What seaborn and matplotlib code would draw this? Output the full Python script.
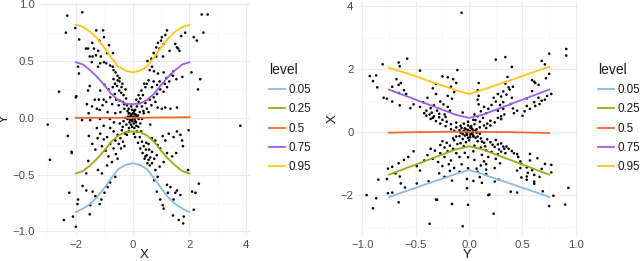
import numpy as np
import pandas as pd
import matplotlib
matplotlib.use("Agg")
import matplotlib.pyplot as plt
import seaborn as sns

x_obs = [
    -2.30, -1.77, -2.35, -2.02, -1.88, -1.28, -1.04, -1.01, -1.17, -1.42,
    -1.64, -1.57, -1.36, -1.21, -1.29, -1.41, -1.51, -1.12, -0.90, -0.69,
    -0.83, -1.44, -1.14, -0.93, -1.92, -1.89, -2.59, -0.79, -0.67, -1.01,
    -1.22,
    2.43, 2.64, 2.49, 2.15, 2.26, 1.71, 1.85, 1.21, 1.15, 1.03,
    1.00, 0.89, 1.09, 0.83, 0.95, 1.30, 1.50, 1.56, 1.60, 1.65,
    0.74, 0.83, 0.66, 1.07, 0.52, 0.68, 0.60, 0.75, 0.89, 1.09,
    1.19, 1.35, 1.44, 1.54, 1.75, 2.07, 2.38, 2.30, 1.42, 1.29,
    1.13, 0.95,
    -0.70, -0.60, -0.53, -0.62, -0.46, -0.70, -0.85, -0.99, -1.14, -1.19,
    -1.33, -1.51, -1.57, -2.00, -1.61, -1.43, -1.26, -1.55, -1.06, -0.93,
    -0.79, -0.63, -0.47, -0.39, -0.32, -0.58, -0.72, -0.49, -0.34, -0.23,
    -0.20, -0.29, -0.14, -0.43, -0.61, -0.88, -0.11, -0.02, -0.06, -0.16,
    0.04, -1.02, -1.16, -0.53, -0.67, -0.36, -0.46,
    0.09, 0.15, 0.21, 0.27, 0.36, 0.31, 0.45, 0.50, 0.56, 0.41,
    0.25, 0.33, 0.45, 0.60, 0.74, 0.86, 0.97, 1.09, 1.15, 1.03,
    0.88, 1.33, 1.56, 0.19, 0.39, 0.56, 0.66, 0.80, 0.13, 0.21,
    0.68, 0.74, 0.86, 1.21,
    -0.08, 0.01, 0.07, -0.02, -0.11, 0.09, 0.04, -0.06, 0.15, -0.18,
    -0.26, 0.21, 0.12, -0.14, 0.01, -0.02, 0.06, 0.13, -0.13, -0.22,
    0.27, -0.32, 0.33, -0.04, 0.03, -0.01, 0.05, -0.09, 0.10, -0.05,
    -2.99, -2.91, 3.79, -2.31, -1.78, -1.49, -1.15, -0.80, -1.98, -2.15,
    -2.28, -2.14, -1.56, -1.63, -1.54, -1.42, -1.31, -1.23, -1.14, -1.08,
    -0.95, -0.85, -0.73, -1.02, -0.90, -0.79, -0.67, -0.59, -0.53, -0.61,
    -0.49, -0.41, -0.53, -0.43, -0.34, -0.29, -0.26, -0.38, -0.20, -0.14,
    -0.67, -0.79, -1.02, -1.26, -0.90, -1.08, -1.22, -0.79, -0.88, -0.99,
    -1.10, -1.16, -1.31, -1.41, -1.49, -1.76, -1.63, -1.92, -1.94, -2.23,
    -1.51, -2.10, -2.42, -2.00, -0.61,
    0.15, 0.25, 0.33, 0.39, 0.47, 0.50, 0.56, 0.60, 0.68, 0.45,
    0.35, 0.27, 0.19, 0.09, 0.04, 0.56, 0.68, 0.80, 0.88, 0.97,
    1.06, 1.15, 1.27, 1.44, 1.56, 1.68, 1.74, 1.97, 1.21, 1.39,
    1.53, 1.09, 0.95, 0.76, 0.85, 0.68, 0.80, 0.88, 0.76, 0.85,
    0.97, 1.06, 1.09, 1.24, 1.33, 1.44, 1.50, 1.56, 1.68, 1.42,
    1.21, 1.80, 1.78, 1.62, 2.09, 2.21, 2.33, 2.15, 1.95, 1.77,
    0.42, 0.52, 0.48, 0.58, 0.62, 0.30, 0.20, -0.30, -0.40, -0.25,
    -0.55, -0.45, -0.18, 0.12, -0.35, -0.45, 0.38, 0.50, -0.66, 0.62,
]
y_obs = [
    0.90, 0.93, 0.75, 0.79, 0.69, 0.77, 0.77, 0.71, 0.68, 0.66,
    0.61, 0.61, 0.61, 0.59, 0.55, 0.54, 0.54, 0.54, 0.57, 0.57,
    0.64, 0.49, 0.48, 0.48, 0.45, 0.39, 0.23, 0.46, 0.42, 0.49,
    0.45,
    0.91, 0.91, 0.75, 0.71, 0.68, 0.72, 0.75, 0.77, 0.73, 0.71,
    0.68, 0.66, 0.65, 0.62, 0.61, 0.59, 0.65, 0.62, 0.61, 0.59,
    0.57, 0.54, 0.52, 0.54, 0.50, 0.45, 0.42, 0.41, 0.39, 0.40,
    0.35, 0.38, 0.41, 0.34, 0.36, 0.40, 0.34, 0.25, 0.37, 0.32,
    0.30, 0.32,
    0.45, 0.40, 0.33, 0.30, 0.32, 0.27, 0.25, 0.29, 0.24, 0.16,
    0.16, 0.28, 0.24, 0.18, 0.12, 0.10, 0.08, 0.04, 0.11, 0.14,
    0.18, 0.21, 0.24, 0.27, 0.20, 0.16, 0.12, 0.11, 0.14, 0.17,
    0.11, 0.08, 0.08, 0.05, 0.04, 0.05, 0.04, 0.07, 0.02, 0.01,
    0.04, 0.16, 0.07, 0.37, 0.34, 0.30, 0.35,
    0.07, 0.10, 0.14, 0.17, 0.20, 0.24, 0.27, 0.30, 0.33, 0.30,
    0.05, 0.10, 0.13, 0.16, 0.18, 0.21, 0.25, 0.23, 0.09, 0.08,
    0.09, 0.08, 0.09, 0.02, 0.04, 0.05, 0.11, 0.14, 0.16, 0.20,
    0.27, 0.32, 0.29, 0.27,
    0.01, 0.00, -0.01, -0.02, -0.04, -0.03, -0.05, -0.06, 0.01, -0.01,
    0.00, -0.01, 0.02, 0.04, 0.04, -0.08, -0.09, -0.07, -0.09, -0.06,
    -0.05, -0.03, -0.01, 0.03, 0.01, -0.03, 0.06, -0.02, 0.03, 0.10,
    -0.06, -0.37, -0.07, -0.01, -0.02, -0.02, -0.01, -0.01, 0.19, -0.30,
    -0.16, -0.31, -0.38, -0.49, -0.16, -0.23, -0.28, -0.18, -0.14, -0.25,
    -0.29, -0.34, -0.39, -0.19, -0.17, -0.23, -0.27, -0.32, -0.36, -0.20,
    -0.23, -0.27, -0.15, -0.18, -0.21, -0.25, -0.14, -0.11, -0.15, -0.12,
    -0.12, -0.09, -0.07, -0.09, -0.42, -0.49, -0.46, -0.57, -0.61, -0.66,
    -0.72, -0.76, -0.69, -0.65, -0.77, -0.60, -0.64, -0.72, -0.76, -0.66,
    -0.85, -0.87, -0.90, -0.96, -0.52,
    -0.12, -0.17, -0.21, -0.25, -0.28, -0.33, -0.37, -0.42, -0.40, -0.34,
    -0.31, -0.27, -0.22, -0.17, -0.14, -0.23, -0.18, -0.20, -0.24, -0.27,
    -0.16, -0.20, -0.14, -0.17, -0.12, -0.15, -0.20, -0.11, -0.31, -0.34,
    -0.31, -0.39, -0.43, -0.36, -0.33, -0.30, -0.46, -0.52, -0.55, -0.65,
    -0.72, -0.77, -0.80, -0.66, -0.61, -0.72, -0.66, -0.64, -0.68, -0.86,
    -0.59, -0.87, -0.93, -0.90, -0.65, -0.66, -0.58, -0.81, -0.46, -0.25,
    -0.36, -0.40, -0.22, -0.28, -0.35, -0.12, -0.08, 0.12, 0.22, 0.25,
    0.28, 0.15, 0.06, -0.04, -0.08, -0.05, 0.06, 0.08, -0.04, -0.06,
]

levels = ["0.05", "0.25", "0.5", "0.75", "0.95"]
level_colors = ["#8ABBE3", "#A3A711", "#F2692A", "#A35CEB", "#FFC516"]

# quantile curves, Y given X (left panel)
grid_left = [-2.0, -1.75, -1.5, -1.25, -1.0, -0.75, -0.5, -0.25, 0.0,
             0.25, 0.5, 0.75, 1.0, 1.25, 1.5, 1.75, 2.0]
q_left = {
    "0.05": [-0.83, -0.80, -0.76, -0.70, -0.62, -0.53, -0.45, -0.415, -0.40,
             -0.415, -0.45, -0.53, -0.62, -0.70, -0.76, -0.80, -0.83],
    "0.25": [-0.49, -0.47, -0.42, -0.36, -0.29, -0.21, -0.155, -0.125, -0.12,
             -0.125, -0.155, -0.21, -0.29, -0.36, -0.42, -0.47, -0.49],
    "0.5": [0.0, 0.0, 0.0, 0.0, 0.0, 0.0, 0.0, 0.0, 0.0,
            0.0, 0.001, 0.002, 0.003, 0.004, 0.004, 0.005, 0.005],
    "0.75": [0.49, 0.47, 0.42, 0.36, 0.29, 0.21, 0.155, 0.125, 0.12,
             0.125, 0.155, 0.21, 0.29, 0.36, 0.42, 0.47, 0.49],
    "0.95": [0.82, 0.80, 0.76, 0.70, 0.62, 0.53, 0.45, 0.415, 0.40,
             0.415, 0.45, 0.53, 0.62, 0.70, 0.76, 0.80, 0.82],
}

# quantile curves, X given Y (right panel)
grid_right = [-0.75, -0.625, -0.5, -0.375, -0.25, -0.125, 0.0,
              0.125, 0.25, 0.375, 0.5, 0.625, 0.75]
q_right = {
    "0.05": [-2.06, -1.91, -1.77, -1.62, -1.48, -1.33, -1.20,
             -1.33, -1.48, -1.62, -1.77, -1.91, -2.06],
    "0.25": [-1.35, -1.19, -1.03, -0.87, -0.71, -0.55, -0.45,
             -0.55, -0.71, -0.87, -1.03, -1.19, -1.35],
    "0.5": [-0.02, -0.01, 0.0, 0.0, 0.01, 0.01, 0.01,
            0.01, 0.0, 0.0, -0.01, -0.02, -0.03],
    "0.75": [1.35, 1.19, 1.03, 0.87, 0.71, 0.55, 0.45,
             0.55, 0.71, 0.87, 1.03, 1.19, 1.35],
    "0.95": [2.04, 1.91, 1.77, 1.62, 1.48, 1.33, 1.21,
             1.34, 1.49, 1.63, 1.78, 1.93, 2.07],
}

obs = pd.DataFrame({"X": x_obs, "Y": y_obs})


def long_lines(grid, q):
    frames = []
    for lev in levels:
        frames.append(pd.DataFrame({"g": grid, "v": q[lev], "level": lev}))
    return pd.concat(frames, ignore_index=True)


lines_left = long_lines(grid_left, q_left)
lines_right = long_lines(grid_right, q_right)

plt.rcParams["font.family"] = ["Liberation Sans", "DejaVu Sans"]
plt.rcParams["axes.unicode_minus"] = True

W, H = 640, 261
fig = plt.figure(figsize=(W / 100, H / 100), dpi=100)


def px_axes(x0, y0, x1, y1):
    return fig.add_axes([x0 / W, 1 - y1 / H, (x1 - x0) / W, (y1 - y0) / H])


def px_text(x, y, s, **kw):
    fig.text(x / W, 1 - y / H, s, ha="center", va="center", fontsize=9.5, color="#1A1A1A", **kw)


def style(ax, xmaj, xmin, ymaj, ymin):
    ax.set_facecolor("white")
    for s in ax.spines.values():
        s.set_visible(False)
    ax.set_xticks(xmaj)
    ax.set_xticks(xmin, minor=True)
    ax.set_yticks(ymaj)
    ax.set_yticks(ymin, minor=True)
    ax.grid(True, which="major", color="#EBEBEB", lw=0.8)
    ax.grid(True, which="minor", color="#F3F3F3", lw=0.45)
    ax.set_axisbelow(True)
    ax.tick_params(which="both", length=0, labelsize=8.2, colors="#4D4D4D", pad=2.5)
    ax.set_xlabel("")
    ax.set_ylabel("")


palette = dict(zip(levels, level_colors))

# left panel: Y against X
ax1 = px_axes(38, 2, 250, 237)
sns.scatterplot(data=obs, x="X", y="Y", s=3.5, color="black", edgecolor="none", ax=ax1, legend=False)
sns.lineplot(data=lines_left, x="g", y="v", hue="level", palette=palette, lw=1.3,
             estimator=None, sort=False, ax=ax1, legend=True)
ax1.set_xlim(-3.33, 4.13)
ax1.set_ylim(-1.05, 1.02)
style(ax1, [-2, 0, 2, 4], [-3, -1, 1, 3], [-1.0, -0.5, 0.0, 0.5, 1.0], [-0.75, -0.25, 0.25, 0.75])
ax1.set_yticklabels(["\u22121.0", "\u22120.5", "0.0", "0.5", "1.0"])
ax1.set_xticklabels(["\u22122", "0", "2", "4"])
px_text(144, 255, "X")
px_text(5, 119, "Y", rotation=90)

# right panel: X against Y
ax2 = px_axes(357, 2, 578, 237)
sns.scatterplot(data=obs, x="Y", y="X", s=3.5, color="black", edgecolor="none", ax=ax2, legend=False)
sns.lineplot(data=lines_right, x="g", y="v", hue="level", palette=palette, lw=1.3,
             estimator=None, sort=False, ax=ax2, legend=True)
ax2.set_xlim(-1.05, 1.02)
ax2.set_ylim(-3.33, 4.13)
style(ax2, [-1.0, -0.5, 0.0, 0.5, 1.0], [-0.75, -0.25, 0.25, 0.75], [-2, 0, 2, 4], [-3, -1, 1, 3])
ax2.set_xticklabels(["\u22121.0", "\u22120.5", "0.0", "0.5", "1.0"])
ax2.set_yticklabels(["\u22122", "0", "2", "4"])
px_text(467, 255, "Y")
px_text(333, 119, "X", rotation=90)

for ax, lx in [(ax1, 269), (ax2, 598)]:
    handles, labels = ax.get_legend_handles_labels()
    leg = ax.legend(handles, labels, title="level", frameon=False, loc="upper left",
                    bbox_to_anchor=(lx / W, 1 - 63 / H), bbox_transform=fig.transFigure,
                    fontsize=8.4, title_fontsize=10, handlelength=1.4, handletextpad=0.3,
                    labelspacing=0.62, borderaxespad=0, borderpad=0, alignment="left")
    leg.get_title().set_color("#1A1A1A")
    for t in leg.get_texts():
        t.set_color("#1A1A1A")
    for ln in leg.get_lines():
        ln.set_linewidth(1.3)

fig.savefig("out.png", dpi=100)
